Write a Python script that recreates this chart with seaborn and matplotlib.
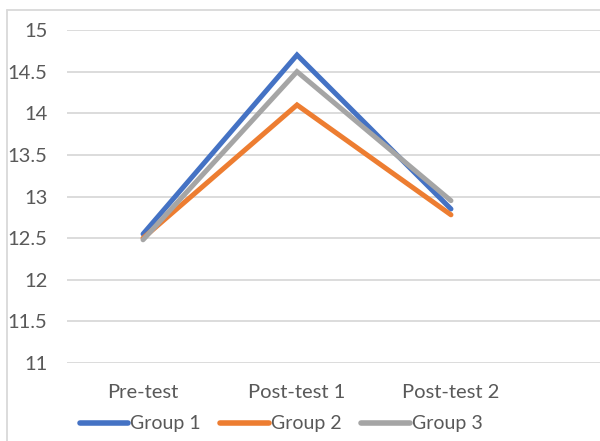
import matplotlib
matplotlib.use("Agg")
import matplotlib.pyplot as plt
import seaborn as sns
import pandas as pd
from matplotlib.lines import Line2D

tests = ["Pre-test", "Post-test 1", "Post-test 2"]
group1 = [12.55, 14.70, 12.85]
group2 = [12.50, 14.10, 12.78]
group3 = [12.48, 14.50, 12.95]
groups = ["Group 1", "Group 2", "Group 3"]
colors = ["#4472C4", "#ED7D31", "#A5A5A5"]

rows = []
for g, vals in zip(groups, [group1, group2, group3]):
    for i, v in enumerate(vals):
        rows.append({"test": i, "score": v, "group": g})
df = pd.DataFrame(rows)

sns.set_style("white")
plt.rcParams["font.family"] = ["Lato", "DejaVu Sans"]

fig = plt.figure(figsize=(6, 4.41), dpi=100)
ax = fig.add_axes([67 / 600, 1 - 363 / 441, 1 - 67 / 600, (363 - 30) / 441])

sns.lineplot(data=df, x="test", y="score", hue="group", palette=colors,
             linewidth=3.6, legend=False, ax=ax,
             solid_capstyle="round", solid_joinstyle="miter")

ax.set_ylim(11, 15)
ax.set_xlim(-0.494, 2.968)
ax.set_yticks([11, 11.5, 12, 12.5, 13, 13.5, 14, 14.5, 15])
ax.set_yticklabels(["11", "11.5", "12", "12.5", "13", "13.5", "14", "14.5", "15"])
ax.set_xticks(range(len(tests)))
ax.set_xticklabels(tests)
ax.grid(axis="y", color="#d9d9d9", linewidth=1.3, zorder=0)
ax.set_axisbelow(True)
for s in ax.spines.values():
    s.set_visible(False)
ax.tick_params(axis="y", length=0, pad=14, labelsize=14.5, labelcolor="#595959")
ax.tick_params(axis="x", length=0, pad=15, labelsize=14.5, labelcolor="#595959")
ax.set_xlabel("")
ax.set_ylabel("")

handles = [Line2D([0], [0], color=c, linewidth=4, solid_capstyle="round") for c in colors]
fig.legend(handles, groups, loc="center", bbox_to_anchor=(281 / 600, 1 - 424 / 441),
           ncol=3, frameon=False, fontsize=14, handlelength=2.5, handletextpad=0.1,
           columnspacing=1.0, labelcolor="#595959")

# chart border (left and top edges visible)
fig.add_artist(Line2D([7 / 600, 7 / 600], [0, 1 - 10 / 441], color="#d9d9d9",
                      linewidth=1.3, transform=fig.transFigure))
fig.add_artist(Line2D([7 / 600, 1], [1 - 10 / 441, 1 - 10 / 441], color="#d9d9d9",
                      linewidth=1.3, transform=fig.transFigure))

fig.savefig("out.png", dpi=100)
